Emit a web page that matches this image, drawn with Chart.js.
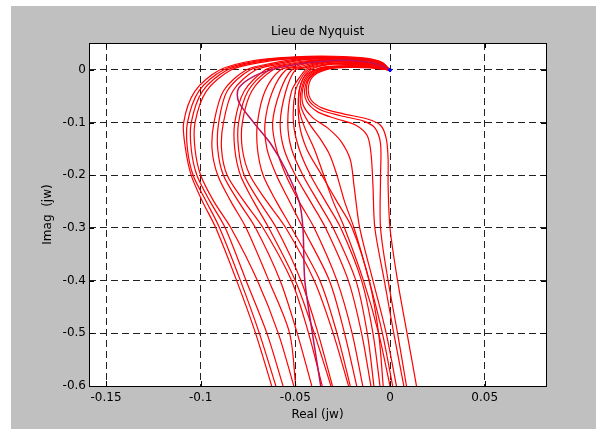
<!DOCTYPE html>
<html>
<head>
<meta charset="utf-8">
<title>Lieu de Nyquist</title>
<script src="https://cdn.jsdelivr.net/npm/chart.js@4.4.1/dist/chart.umd.min.js"></script>
<style>
  html, body { margin: 0; padding: 0; background: #fff; }
  canvas { display: block; }
</style>
</head>
<body>
<canvas id="nyquist" width="603" height="430"></canvas>
<script>
var xTicks = [-0.15, -0.1, -0.05, 0, 0.05];
var xTickLabels = ['-0.15', '-0.1', '-0.05', '0', '0.05'];
var yTicks = [0, -0.1, -0.2, -0.3, -0.4, -0.5, -0.6];
var yTickLabels = ['0', '-0.1', '-0.2', '-0.3', '-0.4', '-0.5', '-0.6'];

// curves, [real, imag]
var c01 = [[0,0],[-0.004,0.014],[-0.012,0.022],[-0.03,0.026],[-0.05,0.025],[-0.072,0.018],[-0.09,0],[-0.103,-0.04],[-0.109,-0.1],[-0.108,-0.15],[-0.105,-0.2],[-0.099,-0.25],[-0.092,-0.3],[-0.081,-0.4],[-0.071,-0.5],[-0.0625,-0.6]];
var c02 = [[0,0],[-0.004,0.013],[-0.012,0.021],[-0.03,0.025],[-0.05,0.024],[-0.07,0.017],[-0.088,0],[-0.101,-0.04],[-0.107,-0.1],[-0.107,-0.15],[-0.104,-0.2],[-0.097,-0.25],[-0.09,-0.3],[-0.079,-0.4],[-0.069,-0.5],[-0.0603,-0.6]];
var c03 = [[0,0],[-0.005,0.013],[-0.013,0.021],[-0.03,0.024],[-0.05,0.023],[-0.069,0.016],[-0.086,0],[-0.099,-0.04],[-0.105,-0.1],[-0.105,-0.15],[-0.102,-0.2],[-0.095,-0.25],[-0.087,-0.3],[-0.076,-0.4],[-0.065,-0.5],[-0.0565,-0.6]];
var c04 = [[0,0],[-0.005,0.012],[-0.013,0.02],[-0.03,0.024],[-0.05,0.022],[-0.067,0.015],[-0.084,0],[-0.097,-0.04],[-0.103,-0.1],[-0.103,-0.15],[-0.1,-0.2],[-0.093,-0.25],[-0.084,-0.3],[-0.07,-0.4],[-0.059,-0.5],[-0.0508,-0.6]];
var c05 = [[0,0],[-0.005,0.012],[-0.014,0.02],[-0.03,0.023],[-0.048,0.021],[-0.062,0.013],[-0.076,0],[-0.088,-0.04],[-0.093,-0.1],[-0.094,-0.15],[-0.091,-0.2],[-0.084,-0.25],[-0.076,-0.3],[-0.064,-0.4],[-0.053,-0.5],[-0.0498,-0.6]];
var c06 = [[0,0],[-0.005,0.012],[-0.014,0.019],[-0.03,0.022],[-0.047,0.02],[-0.06,0.012],[-0.074,0],[-0.086,-0.04],[-0.0905,-0.1],[-0.091,-0.15],[-0.088,-0.2],[-0.08,-0.25],[-0.071,-0.3],[-0.058,-0.4],[-0.049,-0.5],[-0.0413,-0.6]];
var c07 = [[0,0],[-0.005,0.011],[-0.015,0.019],[-0.03,0.021],[-0.046,0.019],[-0.058,0.011],[-0.071,0],[-0.083,-0.04],[-0.088,-0.1],[-0.089,-0.15],[-0.086,-0.2],[-0.077,-0.25],[-0.067,-0.3],[-0.052,-0.4],[-0.043,-0.5],[-0.0358,-0.6]];
var c08 = [[0,0],[-0.005,0.011],[-0.015,0.018],[-0.03,0.02],[-0.045,0.017],[-0.056,0.01],[-0.066,0],[-0.077,-0.04],[-0.082,-0.1],[-0.082,-0.15],[-0.079,-0.2],[-0.072,-0.25],[-0.064,-0.3],[-0.05,-0.4],[-0.04,-0.5],[-0.0312,-0.6]];
var c09 = [[0,0],[-0.006,0.011],[-0.015,0.018],[-0.03,0.02],[-0.044,0.016],[-0.055,0.009],[-0.064,0],[-0.075,-0.04],[-0.08,-0.1],[-0.08,-0.15],[-0.077,-0.2],[-0.069,-0.25],[-0.06,-0.3],[-0.047,-0.4],[-0.038,-0.5],[-0.0304,-0.6]];
var c10 = [[0,0],[-0.006,0.01],[-0.016,0.017],[-0.03,0.019],[-0.043,0.015],[-0.053,0.008],[-0.062,0],[-0.073,-0.04],[-0.078,-0.1],[-0.078,-0.15],[-0.074,-0.2],[-0.065,-0.25],[-0.055,-0.3],[-0.04,-0.4],[-0.03,-0.5],[-0.0219,-0.6]];
var c11 = [[0,0],[-0.006,0.01],[-0.016,0.016],[-0.03,0.018],[-0.042,0.014],[-0.05,0.007],[-0.058,0],[-0.066,-0.04],[-0.07,-0.1],[-0.07,-0.15],[-0.067,-0.2],[-0.06,-0.25],[-0.052,-0.3],[-0.037,-0.4],[-0.028,-0.5],[-0.021,-0.6]];
var c12 = [[0,0],[-0.006,0.009],[-0.016,0.015],[-0.03,0.017],[-0.04,0.013],[-0.048,0.006],[-0.055,0],[-0.062,-0.04],[-0.066,-0.1],[-0.065,-0.15],[-0.06,-0.2],[-0.053,-0.25],[-0.046,-0.3],[-0.032,-0.4],[-0.024,-0.5],[-0.0176,-0.6]];
var c13 = [[0,0],[-0.007,0.009],[-0.017,0.014],[-0.03,0.016],[-0.039,0.012],[-0.046,0.005],[-0.052,0],[-0.058,-0.04],[-0.062,-0.1],[-0.06,-0.15],[-0.055,-0.2],[-0.048,-0.25],[-0.04,-0.3],[-0.028,-0.4],[-0.02,-0.5],[-0.0144,-0.6]];
var c14 = [[0,0],[-0.007,0.008],[-0.017,0.013],[-0.03,0.015],[-0.038,0.011],[-0.045,0.004],[-0.05,0],[-0.055,-0.04],[-0.058,-0.1],[-0.056,-0.15],[-0.05,-0.2],[-0.042,-0.25],[-0.034,-0.3],[-0.022,-0.4],[-0.015,-0.5],[-0.0101,-0.6]];
var c15 = [[0,0],[-0.007,0.008],[-0.018,0.012],[-0.03,0.013],[-0.038,0.009],[-0.044,0.002],[-0.047,-0.01],[-0.052,-0.04],[-0.054,-0.1],[-0.052,-0.15],[-0.046,-0.2],[-0.038,-0.25],[-0.03,-0.3],[-0.018,-0.4],[-0.012,-0.5],[-0.0085,-0.6]];
var c16 = [[0,0],[-0.008,0.007],[-0.018,0.011],[-0.03,0.012],[-0.037,0.008],[-0.043,0.001],[-0.046,-0.01],[-0.05,-0.04],[-0.051,-0.1],[-0.048,-0.15],[-0.042,-0.2],[-0.034,-0.25],[-0.026,-0.3],[-0.015,-0.4],[-0.009,-0.5],[-0.0053,-0.6]];
var c17 = [[0,0],[-0.008,0.006],[-0.019,0.01],[-0.03,0.011],[-0.037,0.007],[-0.042,0],[-0.045,-0.01],[-0.048,-0.04],[-0.048,-0.1],[-0.044,-0.15],[-0.036,-0.2],[-0.028,-0.25],[-0.02,-0.3],[-0.011,-0.4],[-0.006,-0.5],[-0.0036,-0.6]];
var s01 = [[0,0],[-0.01,0.004],[-0.021,0.005],[-0.032,0.002],[-0.04,-0.01],[-0.043,-0.03],[-0.042,-0.055],[-0.036,-0.072],[-0.025,-0.083],[-0.012,-0.093],[-0.005,-0.105],[-0.002,-0.13],[-0.001,-0.17],[-0.001,-0.22],[0,-0.3],[0.004,-0.4],[0.009,-0.5],[0.014,-0.6]];
var s02 = [[0,0],[-0.01,0.005],[-0.022,0.006],[-0.033,0.003],[-0.041,-0.01],[-0.044,-0.03],[-0.043,-0.057],[-0.037,-0.075],[-0.026,-0.087],[-0.014,-0.097],[-0.008,-0.11],[-0.005,-0.14],[-0.005,-0.2],[-0.005,-0.3],[-0.001,-0.4],[0.004,-0.5],[0.0087,-0.6]];
var s03 = [[0,0],[-0.011,0.005],[-0.023,0.006],[-0.034,0.003],[-0.042,-0.012],[-0.045,-0.035],[-0.044,-0.06],[-0.038,-0.08],[-0.028,-0.093],[-0.018,-0.105],[-0.012,-0.125],[-0.01,-0.16],[-0.009,-0.22],[-0.008,-0.3],[-0.003,-0.4],[0.002,-0.5],[0.0073,-0.6]];
var s04 = [[0,0],[-0.011,0.006],[-0.024,0.007],[-0.035,0.004],[-0.043,-0.012],[-0.046,-0.035],[-0.046,-0.065],[-0.041,-0.09],[-0.033,-0.11],[-0.026,-0.135],[-0.021,-0.17],[-0.019,-0.22],[-0.016,-0.3],[-0.009,-0.4],[-0.002,-0.5],[0.0034,-0.6]];
var s05 = [[0,0],[-0.012,0.006],[-0.025,0.007],[-0.036,0.004],[-0.044,-0.012],[-0.047,-0.04],[-0.047,-0.07],[-0.043,-0.1],[-0.037,-0.13],[-0.032,-0.16],[-0.028,-0.2],[-0.024,-0.25],[-0.019,-0.3],[-0.011,-0.4],[-0.004,-0.5],[0.0014,-0.6]];
var s06 = [[0,0],[-0.012,0.007],[-0.026,0.008],[-0.037,0.004],[-0.045,-0.012],[-0.048,-0.04],[-0.048,-0.075],[-0.045,-0.11],[-0.04,-0.15],[-0.035,-0.2],[-0.03,-0.25],[-0.024,-0.3],[-0.014,-0.4],[-0.006,-0.5],[0,-0.6]];
var purpleCurve = [[0,0],[-0.006,0.01],[-0.016,0.017],[-0.03,0.018],[-0.045,0.013],[-0.06,0.003],[-0.072,-0.012],[-0.08,-0.035],[-0.08,-0.06],[-0.072,-0.1],[-0.063,-0.14],[-0.055,-0.19],[-0.048,-0.25],[-0.046,-0.3],[-0.045,-0.4],[-0.041,-0.5],[-0.0366,-0.6]];
var originPoint = [[0,0]];

var redCurves = [c01, c02, c03, c04, c05, c06, c07, c08, c09, c10, c11, c12, c13, c14, c15, c16, c17, s01, s02, s03, s04, s05, s06];

function toXY(pts) {
    return pts.map(function (p) { return { x: p[0], y: p[1] }; });
}

var frame = {
    id: 'frame',
    beforeDraw: function (chart) {
        var ctx = chart.ctx, a = chart.chartArea;
        ctx.save();
        ctx.fillStyle = '#c0c0c0';
        ctx.fillRect(11, 6, 585, 423);
        ctx.fillStyle = '#ffffff';
        ctx.fillRect(a.left, a.top, a.right - a.left, a.bottom - a.top);
        ctx.restore();
    },
    afterDraw: function (chart) {
        var ctx = chart.ctx, a = chart.chartArea;
        var xs = chart.scales.x, ys = chart.scales.y;
        ctx.save();
        ctx.strokeStyle = '#000';
        ctx.lineWidth = 1;
        ctx.strokeRect(Math.round(a.left) + 0.5, Math.round(a.top) + 0.5, Math.round(a.right - a.left), Math.round(a.bottom - a.top));
        ctx.beginPath();
        xTicks.forEach(function (v) {
            var px = Math.round(xs.getPixelForValue(v)) + 0.5;
            ctx.moveTo(px, a.bottom); ctx.lineTo(px, a.bottom - 5);
            ctx.moveTo(px, a.top); ctx.lineTo(px, a.top + 5);
        });
        yTicks.forEach(function (v) {
            var py = Math.round(ys.getPixelForValue(v)) + 0.5;
            ctx.moveTo(a.left, py); ctx.lineTo(a.left + 5, py);
            ctx.moveTo(a.right, py); ctx.lineTo(a.right - 5, py);
        });
        ctx.stroke();
        ctx.restore();
    }
};

document.addEventListener("DOMContentLoaded", function () {
    var ctx = document.getElementById('nyquist').getContext('2d');
    var font = { family: "'DejaVu Sans', sans-serif", size: 12 };

    var datasets = [{
        label: 'origin',
        data: toXY(originPoint),
        pointRadius: 1.5,
        pointBackgroundColor: '#0000ff',
        pointBorderColor: '#0000ff',
        showLine: false
    }, {
        label: 'p',
        data: toXY(purpleCurve),
        showLine: true,
        borderColor: '#c0105a',
        borderWidth: 1.5,
        pointRadius: 0,
        tension: 0.3
    }];
    redCurves.forEach(function (c, i) {
        datasets.push({
            label: 'c' + (i + 1),
            data: toXY(c),
            showLine: true,
            borderColor: '#ff0000',
            borderWidth: 1.2,
            pointRadius: 0,
            tension: 0.3
        });
    });

    new Chart(ctx, {
        type: 'scatter',
        data: { datasets: datasets },
        plugins: [frame],
        options: {
            responsive: false,
            animation: false,
            devicePixelRatio: 1,
            layout: { padding: { left: 0, right: 57, top: 0, bottom: 0 } },
            plugins: {
                legend: { display: false },
                tooltip: { enabled: false },
                title: {
                    display: true,
                    text: 'Lieu de Nyquist',
                    fullSize: false,
                    color: '#000',
                    font: { family: font.family, size: 12, weight: 'normal' },
                    padding: { top: 25, bottom: 3.6 }
                }
            },
            scales: {
                x: {
                    type: 'linear',
                    min: -0.159,
                    max: 0.0824,
                    afterBuildTicks: function (scale) {
                        scale.ticks = xTicks.map(function (v) { return { value: v }; });
                    },
                    afterFit: function (scale) { scale.height = 44; },
                    ticks: {
                        color: '#000',
                        font: font,
                        padding: 5,
                        maxRotation: 0,
                        callback: function (value, i) { return xTickLabels[i]; }
                    },
                    grid: { color: '#222', drawTicks: false },
                    border: { display: false, dash: [7, 4] },
                    title: {
                        display: true,
                        text: 'Real (jw)',
                        color: '#000',
                        font: font,
                        padding: { top: 0, bottom: 8 }
                    }
                },
                y: {
                    type: 'linear',
                    min: -0.6,
                    max: 0.0512,
                    afterBuildTicks: function (scale) {
                        scale.ticks = yTicks.map(function (v) { return { value: v }; });
                    },
                    afterFit: function (scale) { scale.width = 89; },
                    ticks: {
                        color: '#000',
                        font: font,
                        padding: 3,
                        callback: function (value, i) { return yTickLabels[i]; }
                    },
                    grid: { color: '#222', drawTicks: false },
                    border: { display: false, dash: [7, 4] },
                    title: {
                        display: true,
                        text: 'Imag  (jw)',
                        color: '#000',
                        font: font,
                        padding: { top: 41, bottom: 0 }
                    }
                }
            }
        }
    });
});
</script>
</body>
</html>
